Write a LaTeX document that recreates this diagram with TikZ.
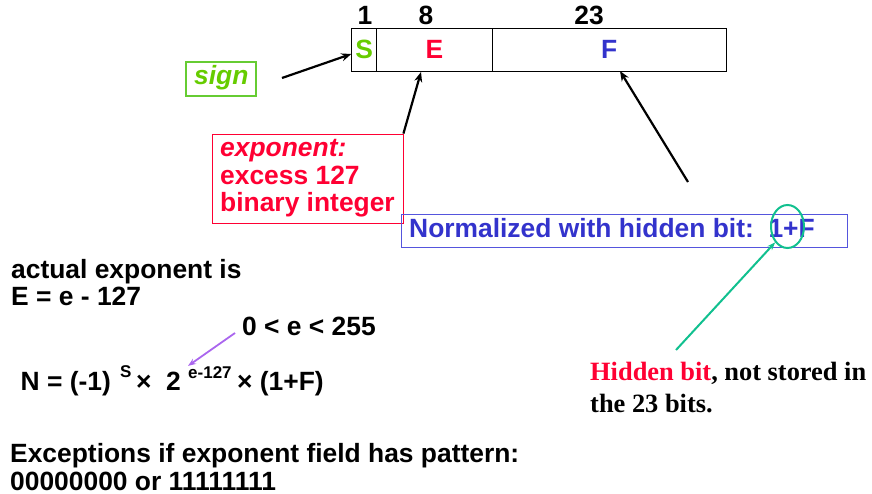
\documentclass[tikz,border=0pt]{standalone}
\usepackage{fontspec}
\setmainfont{Liberation Sans}
\newfontfamily\serifbold{Liberation Serif}
\usetikzlibrary{arrows.meta,shapes.geometric}
\definecolor{sgreen}{HTML}{66CC00}
\definecolor{boxgreen}{HTML}{66CC33}
\definecolor{ered}{HTML}{FF0033}
\definecolor{fblue}{HTML}{3333CC}
\definecolor{nblue}{HTML}{5555DD}
\definecolor{hgreen}{HTML}{11C08F}
\definecolor{epurple}{HTML}{AA66EE}
\tikzset{
  big/.style={font=\fontsize{26.4}{29}\selectfont\bfseries},
  txt/.style={big, inner sep=0pt, anchor=base west},
  toplab/.style={big, inner sep=0pt, anchor=base},
  field/.style={draw, line width=0.8pt, inner sep=0pt, big},
  sup/.style={inner sep=0pt, anchor=base west, font=\fontsize{17}{19}\selectfont\bfseries},
  blackarrow/.style={line width=2.2pt, -{Stealth[length=10pt,width=8pt]}},
  hidtxt/.style={inner sep=0pt, anchor=base west, font=\fontsize{26.4}{30}\selectfont\serifbold\bfseries},
}
\begin{document}
\begin{tikzpicture}[x=1pt,y=-1pt]
\useasboundingbox (0,0) rectangle (872,494);

% bit fields
\node[field, minimum width=25pt, minimum height=42.7pt, text=sgreen] (S) at (364.2,49.7) {S};
\node[field, minimum width=115.6pt, minimum height=42.7pt, text=ered] (E) at (434.5,49.7) {E};
\node[field, minimum width=233.7pt, minimum height=42.7pt, text=fblue] (F) at (609.15,49.7) {F};

\node[toplab] (l1) at (365,25) {1};
\node[toplab] (l8) at (426,25) {8};
\node[toplab] (l23) at (589,25) {23};

% sign
\node[draw=boxgreen, line width=1.4pt, minimum width=70pt, minimum height=34pt, inner sep=0pt] (signbox) at (221,79) {};
\node[txt, text=sgreen, font=\fontsize{26.4}{29}\selectfont\bfseries\itshape] (signtxt) at (194,85) {sign};
\coordinate (signtail) at (282,78);
\draw[blackarrow] (signtail) -- (S.west |- 0,54);

% exponent
\node[draw=ered, line width=0.8pt, minimum width=191pt, minimum height=89pt, inner sep=0pt] (expbox) at (307.5,178.5) {};
\node[txt, text=ered, font=\fontsize{26.4}{29}\selectfont\bfseries\itshape] (ex1) at (220,157) {exponent:};
\node[txt, text=ered] (ex2) at (220,185) {excess 127};
\node[txt, text=ered] (ex3) at (220,212) {binary integer};
\coordinate (etip) at (421,72);
\draw[blackarrow] (expbox.north east) -- (etip);

% normalized
\node[draw=nblue, line width=0.8pt, minimum width=446pt, minimum height=33pt, inner sep=0pt] (normbox) at (624,230.5) {};
\node[txt, text=fblue] (norm) at (409,237) {Normalized with hidden bit:\ \ 1+F};
\coordinate (ftail) at (688,182);
\coordinate (ftip) at (620,71);
\draw[blackarrow] (ftail) -- (ftip);

% hidden bit ellipse
\node[ellipse, draw=hgreen, line width=2pt, minimum width=33pt, minimum height=43pt, inner sep=0pt] (hid) at (787.5,226.5) {};
\coordinate (htail) at (676,350);
\draw[hgreen, line width=2pt, -{Stealth[length=8pt,width=6pt]}] (htail) -- (hid.south west);

% actual exponent
\node[txt] (act1) at (11,278) {actual exponent is};
\node[txt] (act2) at (11,305) {E = e - 127};
\node[txt] (range) at (242,335) {0 < e < 255};

% formula
\node[txt] (n1) at (20.5,390) {N = (-1)};
\node[sup] (n2) at (120,377) {S};
\node[txt] (n3) at (136,390) {×};
\node[txt] (n4) at (166,390) {2};
\node[sup] (n5) at (188,378) {e-127};
\node[txt] (n6) at (237,390) {× (1+F)};
\coordinate (ptail) at (235,333);
\draw[epurple, line width=1.8pt, -{Stealth[length=8pt,width=6pt]}] (ptail) -- (n5.north west);

% hidden bit text
\node[hidtxt] (hb1) at (590,380) {\textcolor{ered}{Hidden bit}, not stored in};
\node[hidtxt] (hb2) at (590,412) {the 23 bits.};

% exceptions
\node[txt] (exc1) at (10,462) {Exceptions if exponent field has pattern:};
\node[txt] (exc2) at (10,490) {00000000 or 11111111};
\end{tikzpicture}
\end{document}
